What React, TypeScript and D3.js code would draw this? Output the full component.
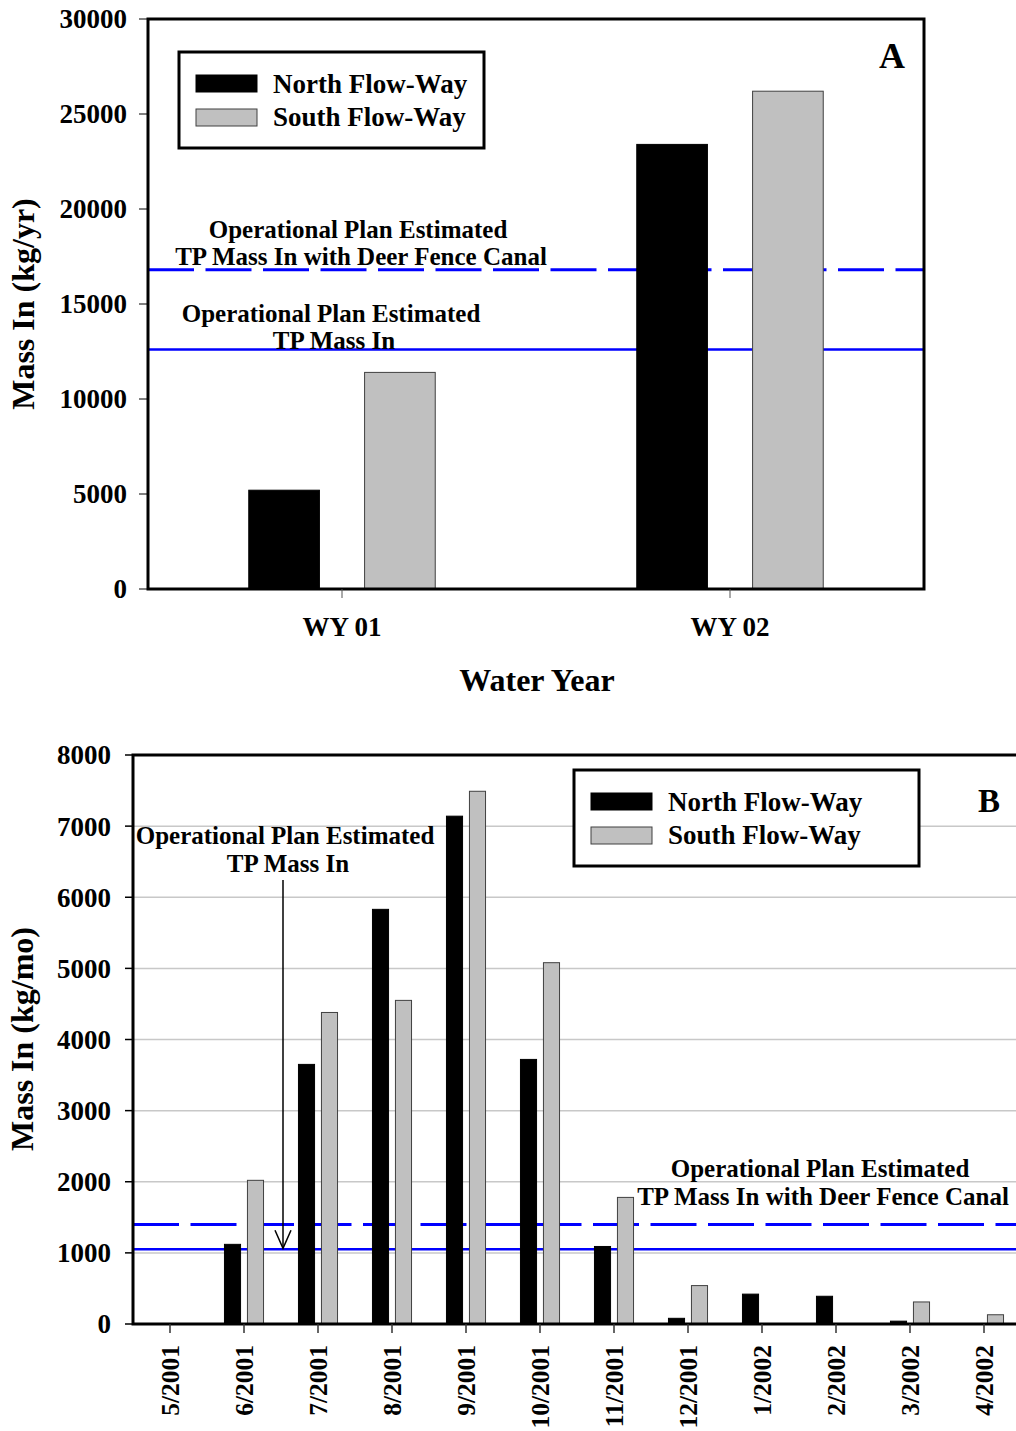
import React from 'react';
import * as d3 from 'd3';

// Annual TP mass in (kg/yr) by water year
const yearCategories = ['WY 01', 'WY 02'];
const yearNorth = [5200, 23400];
const yearSouth = [11400, 26200];
const yearTicks = [0, 5000, 10000, 15000, 20000, 25000, 30000];
const yearPlanMass = 12600;
const yearPlanMassDeerFence = 16800;

// Monthly TP mass in (kg/mo)
const months = ['5/2001', '6/2001', '7/2001', '8/2001', '9/2001', '10/2001', '11/2001', '12/2001', '1/2002', '2/2002', '3/2002', '4/2002'];
const monthNorth = [0, 1120, 3650, 5830, 7140, 3720, 1090, 80, 420, 390, 40, 0];
const monthSouth = [0, 2020, 4380, 4550, 7490, 5080, 1780, 540, 0, 0, 310, 130];
const monthTicks = [0, 1000, 2000, 3000, 4000, 5000, 6000, 7000, 8000];
const monthPlanMass = 1050;
const monthPlanMassDeerFence = 1400;

const seriesNames = ['North Flow-Way', 'South Flow-Way'];
const seriesFill = ['#000000', '#c0c0c0'];
const seriesStroke = ['#000000', '#404040'];

const FONT = "'Liberation Serif', 'Times New Roman', serif";
const BLUE = '#0000ff';
const DASH = '46 11.5';

function Legend({ x, y, w, h }: { x: number; y: number; w: number; h: number }) {
  return (
    <g>
      <rect x={x} y={y} width={w} height={h} fill="#fff" stroke="#000" strokeWidth={3} />
      {seriesNames.map((name, i) => (
        <g key={name}>
          <rect x={x + 17} y={y + 23 + i * 34} width={61} height={17} fill={seriesFill[i]} stroke={seriesStroke[i]} strokeWidth={1} />
          <text x={x + 94} y={y + 41 + i * 33} fontSize={27} fontWeight="bold" fontFamily={FONT}>{name}</text>
        </g>
      ))}
    </g>
  );
}

function TwoLineLabel({ cx1, cx2, y1, y2, l1, l2 }: { cx1: number; cx2: number; y1: number; y2: number; l1: string; l2: string }) {
  return (
    <g fontSize={25} fontWeight="bold" fontFamily={FONT} textAnchor="middle">
      <text x={cx1} y={y1}>{l1}</text>
      <text x={cx2} y={y2}>{l2}</text>
    </g>
  );
}

function PanelA() {
  const left = 148, right = 924, top = 19, bottom = 589;
  const x = d3.scaleBand<string>().domain(yearCategories).range([left, right]);
  const xi = d3.scaleBand<string>().domain(seriesNames).range([0, x.bandwidth()]).paddingInner(0.39).paddingOuter(0.87);
  const y = d3.scaleLinear().domain([0, 30000]).range([bottom, top]);
  const series = [yearNorth, yearSouth];
  return (
    <g>
      {/* reference lines */}
      <line x1={left} x2={right} y1={y(yearPlanMassDeerFence)} y2={y(yearPlanMassDeerFence)} stroke={BLUE} strokeWidth={3} strokeDasharray={DASH} />
      <line x1={left} x2={right} y1={y(yearPlanMass)} y2={y(yearPlanMass)} stroke={BLUE} strokeWidth={2.5} />
      {/* bars */}
      {yearCategories.map((c, ci) =>
        seriesNames.map((s, si) => (
          <rect key={c + s} x={(x(c) as number) + (xi(s) as number)} y={y(series[si][ci])} width={xi.bandwidth()} height={bottom - y(series[si][ci])}
            fill={seriesFill[si]} stroke={seriesStroke[si]} strokeWidth={1} />
        ))
      )}
      {/* frame */}
      <rect x={left} y={top} width={right - left} height={bottom - top} fill="none" stroke="#000" strokeWidth={3} />
      {/* y axis */}
      {yearTicks.map(t => (
        <g key={t}>
          <line x1={left - 9} x2={left} y1={y(t)} y2={y(t)} stroke="#000" strokeWidth={1} />
          <text x={left - 21} y={y(t)} dy="0.35em" textAnchor="end" fontSize={27} fontWeight="bold" fontFamily={FONT}>{t}</text>
        </g>
      ))}
      {/* x axis */}
      {yearCategories.map(c => {
        const cx = (x(c) as number) + x.bandwidth() / 2;
        return (
          <g key={c}>
            <line x1={cx} x2={cx} y1={bottom} y2={bottom + 9} stroke="#555" strokeWidth={1} />
            <text x={cx} y={636} textAnchor="middle" fontSize={27} fontWeight="bold" fontFamily={FONT}>{c}</text>
          </g>
        );
      })}
      <text x={537} y={691} textAnchor="middle" fontSize={32} fontWeight="bold" fontFamily={FONT}>Water Year</text>
      <text transform="translate(34,304) rotate(-90)" textAnchor="middle" fontSize={32} fontWeight="bold" fontFamily={FONT}>Mass In (kg/yr)</text>
      <TwoLineLabel cx1={358} cx2={361} y1={238} y2={265} l1="Operational Plan Estimated" l2="TP Mass In with Deer Fence Canal" />
      <TwoLineLabel cx1={331} cx2={334} y1={322} y2={349} l1="Operational Plan Estimated" l2="TP Mass In" />
      <Legend x={179} y={52} w={305} h={96} />
      <text x={892} y={68} textAnchor="middle" fontSize={36} fontWeight="bold" fontFamily={FONT}>A</text>
    </g>
  );
}

function PanelB() {
  const left = 133, right = 1021, top = 755, bottom = 1324;
  const x = d3.scaleBand<string>().domain(months).range([left, right]);
  const xi = d3.scaleBand<string>().domain(seriesNames).range([0, x.bandwidth()]).paddingInner(0.3).paddingOuter(0.76);
  const y = d3.scaleLinear().domain([0, 8000]).range([bottom, top]);
  const series = [monthNorth, monthSouth];
  const arrowX = 283;
  return (
    <g>
      {/* gridlines */}
      {monthTicks.filter(t => t > 0 && t < 8000).map(t => (
        <line key={t} x1={left} x2={right} y1={y(t)} y2={y(t)} stroke="#c8c8c8" strokeWidth={1.5} />
      ))}
      {/* reference lines */}
      <line x1={left} x2={right} y1={y(monthPlanMassDeerFence)} y2={y(monthPlanMassDeerFence)} stroke={BLUE} strokeWidth={3} strokeDasharray={DASH} />
      <line x1={left} x2={right} y1={y(monthPlanMass)} y2={y(monthPlanMass)} stroke={BLUE} strokeWidth={2.5} />
      {/* bars */}
      {months.map((m, mi) =>
        seriesNames.map((s, si) => series[si][mi] > 0 ? (
          <rect key={m + s} x={(x(m) as number) + (xi(s) as number)} y={y(series[si][mi])} width={xi.bandwidth()} height={bottom - y(series[si][mi])}
            fill={seriesFill[si]} stroke={seriesStroke[si]} strokeWidth={1} />
        ) : null)
      )}
      {/* frame */}
      <rect x={left} y={top} width={right - left} height={bottom - top} fill="none" stroke="#000" strokeWidth={3} />
      {/* y axis */}
      {monthTicks.map(t => (
        <g key={t}>
          <line x1={left - 8} x2={left} y1={y(t)} y2={y(t)} stroke="#000" strokeWidth={1.5} />
          <text x={left - 22} y={y(t)} dy="0.35em" textAnchor="end" fontSize={27} fontWeight="bold" fontFamily={FONT}>{t}</text>
        </g>
      ))}
      {/* x axis */}
      {months.map(m => {
        const cx = (x(m) as number) + x.bandwidth() / 2;
        return (
          <g key={m}>
            <line x1={cx} x2={cx} y1={bottom} y2={bottom + 9} stroke="#333" strokeWidth={1.5} />
            <text transform={`translate(${cx},1345) rotate(-90)`} dy="0.35em" textAnchor="end" fontSize={25.5} fontWeight="bold" fontFamily={FONT}>{m}</text>
          </g>
        );
      })}
      <text transform="translate(33,1039) rotate(-90)" textAnchor="middle" fontSize={32} fontWeight="bold" fontFamily={FONT}>Mass In (kg/mo)</text>
      <TwoLineLabel cx1={285} cx2={288} y1={844} y2={872} l1="Operational Plan Estimated" l2="TP Mass In" />
      <TwoLineLabel cx1={820} cx2={823} y1={1177} y2={1205} l1="Operational Plan Estimated" l2="TP Mass In with Deer Fence Canal" />
      {/* arrow to the plan estimate line */}
      <line x1={arrowX} x2={arrowX} y1={880} y2={y(monthPlanMass) - 1} stroke="#000" strokeWidth={1.5} />
      <polyline points={`${arrowX - 8},${y(monthPlanMass) - 19} ${arrowX},${y(monthPlanMass) - 1} ${arrowX + 8},${y(monthPlanMass) - 19}`} fill="none" stroke="#000" strokeWidth={1.5} />
      <Legend x={574} y={770} w={345} h={96} />
      <text x={989} y={812} textAnchor="middle" fontSize={33} fontWeight="bold" fontFamily={FONT}>B</text>
    </g>
  );
}

export default function App() {
  return (
    <svg width={1016} height={1431} style={{ position: 'absolute', left: 0, top: 0, background: '#fff' }}>
      <rect width={1016} height={1431} fill="#fff" />
      <PanelA />
      <PanelB />
    </svg>
  );
}
